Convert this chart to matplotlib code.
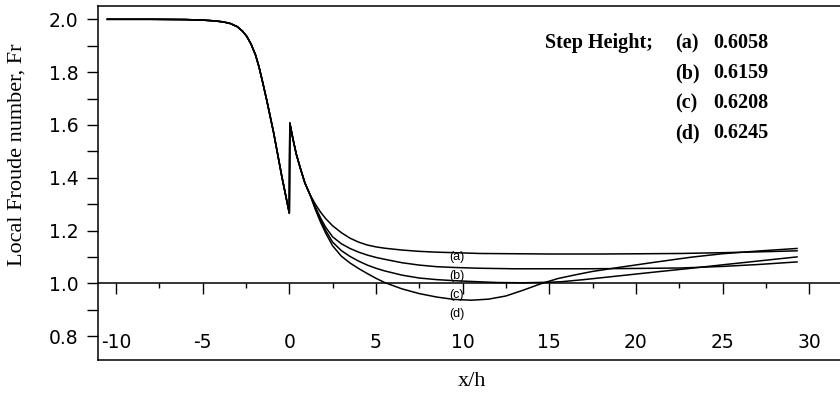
import matplotlib
matplotlib.use("Agg")
import matplotlib.pyplot as plt
from matplotlib.ticker import MultipleLocator

plt.rcParams['axes.unicode_minus'] = False

# upstream part, same for all step heights
up_x = [-10.5, -8, -6, -5, -4.3, -3.8, -3.4, -3.0, -2.7, -2.45, -2.2, -1.95, -1.75, -1.55, -1.29, -0.9, -0.43,
        0.0]
up_y = [2.0, 2.0, 1.999, 1.997, 1.994, 1.99, 1.984, 1.972, 1.955, 1.935, 1.905, 1.865, 1.82, 1.765, 1.69, 1.569,
        1.404, 1.266]

# just behind the step, still one curve
jump_x = [0.03, 0.2, 0.4, 0.64, 0.9, 1.2]
jump_y = [1.607, 1.55, 1.49, 1.435, 1.38, 1.335]

a_x = [1.5, 1.8, 2.1, 2.5, 3.0, 3.5, 4.0, 4.5, 5.0, 5.5, 6.5, 7.5, 8.5, 9.5, 11, 13, 15, 18, 20.5, 22.6, 25,
       27, 29.3]
a_y = [1.300, 1.270, 1.245, 1.218, 1.192, 1.171, 1.156, 1.145, 1.138, 1.133, 1.126, 1.121, 1.118, 1.116, 1.113,
       1.112, 1.111, 1.111, 1.112, 1.113, 1.116, 1.119, 1.123]

b_x = [1.5, 1.8, 2.1, 2.5, 3.0, 3.5, 4.0, 4.5, 5.0, 5.5, 6.5, 7.5, 8.5, 9.5, 11, 13, 15, 17, 19.5, 22.6, 25,
       27, 29.3]
b_y = [1.290, 1.248, 1.212, 1.176, 1.150, 1.132, 1.118, 1.107, 1.098, 1.091, 1.078, 1.069, 1.063, 1.060, 1.057,
       1.055, 1.055, 1.055, 1.056, 1.058, 1.064, 1.071, 1.081]

c_x = [1.5, 1.8, 2.1, 2.5, 3.0, 3.5, 4.0, 4.5, 5.0, 5.5, 6.5, 7.5, 8.5, 9.5, 10.5, 12, 13.5, 15, 15.7, 17, 19,
       21, 23.2, 25, 27, 29.3]
c_y = [1.285, 1.240, 1.200, 1.156, 1.124, 1.102, 1.084, 1.069, 1.057, 1.047, 1.031, 1.020, 1.014, 1.010, 1.007,
       1.003, 1.002, 1.004, 1.006, 1.014, 1.028, 1.042, 1.057, 1.070, 1.084, 1.100]

d_x = [1.5, 1.8, 2.1, 2.5, 3.0, 3.5, 4.0, 4.5, 5.0, 5.5, 6.5, 7.5, 8.5, 9.5, 10.5, 11.5, 12.5, 13.5, 14.5,
       15.5, 16.5, 17.5, 19, 21, 23.2, 25, 27, 29.3]
d_y = [1.280, 1.232, 1.190, 1.142, 1.103, 1.077, 1.056, 1.037, 1.019, 1.003, 0.979, 0.961, 0.948, 0.939, 0.936,
       0.940, 0.952, 0.974, 0.998, 1.018, 1.032, 1.045, 1.060, 1.079, 1.099, 1.112, 1.122, 1.132]

curve_tags = ['(a)', '(b)', '(c)', '(d)']
step_heights = ['0.6058', '0.6159', '0.6208', '0.6245']
tag_x = 9.65
tag_y = [1.098, 1.027, 0.956, 0.884]

fig = plt.figure(figsize=(8.4, 3.97), dpi=100)
ax = fig.add_axes([98 / 840, 1 - 360 / 397, 1 - 98 / 840, 354 / 397])

for cx, cy in [(a_x, a_y), (b_x, b_y), (c_x, c_y), (d_x, d_y)]:
    ax.plot(up_x + jump_x + cx, up_y + jump_y + cy, color='black', lw=1.1)

for t, ty in zip(curve_tags, tag_y):
    ax.text(tag_x, ty, t, ha='center', va='center', fontsize=9, family='Liberation Sans')

ax.set_xlim(-11.04, 31.78)
ax.set_ylim(0.7095, 2.0504)

# x axis sits on Fr = 1
ax.spines['bottom'].set_position(('data', 1.0))
ax.spines['right'].set_visible(False)
for s in ['left', 'top', 'bottom']:
    ax.spines[s].set_linewidth(1.1)
ax.plot([0, 1], [0, 0], transform=ax.transAxes, color='black', lw=1.1, clip_on=False)

ax.set_xticks(range(-10, 31, 5))
ax.xaxis.set_minor_locator(MultipleLocator(2.5))
ax.set_yticks([0.8, 1.0, 1.2, 1.4, 1.6, 1.8, 2.0])
ax.yaxis.set_minor_locator(MultipleLocator(0.1))
ax.set_yticklabels(['0.8', '1.0', '1.2', '1.4', '1.6', '1.8', '2.0'])

ax.tick_params(axis='x', which='major', direction='out', length=8, width=1.0, pad=28, labelsize=13.5)
ax.tick_params(axis='x', which='minor', direction='out', length=3.8, width=1.0)
ax.tick_params(axis='y', which='both', direction='out', length=8, width=1.0, pad=6, labelsize=13.5)
for lab in ax.get_xticklabels() + ax.get_yticklabels():
    lab.set_family('DejaVu Sans')

fig.text(17 / 840, 1 - 155 / 397, 'Local Froude number, Fr', rotation=90, ha='center', va='center',
         fontsize=16, family='Liberation Serif')
fig.text(472 / 840, 1 - 381 / 397, 'x/h', ha='center', va='center', fontsize=16, family='Liberation Serif')

fig.text(545 / 840, 1 - 43 / 397, 'Step Height;', ha='left', va='center', fontsize=14.5,
         family='Liberation Serif', weight='bold')
for i in range(4):
    yy = 1 - (43 + 30 * i) / 397
    fig.text(675 / 840, yy, curve_tags[i], ha='left', va='center', fontsize=14.5,
             family='Liberation Serif', weight='bold')
    fig.text(713 / 840, yy, step_heights[i], ha='left', va='center', fontsize=14.5,
             family='Liberation Serif', weight='bold')

plt.savefig('out.png', dpi=100)
